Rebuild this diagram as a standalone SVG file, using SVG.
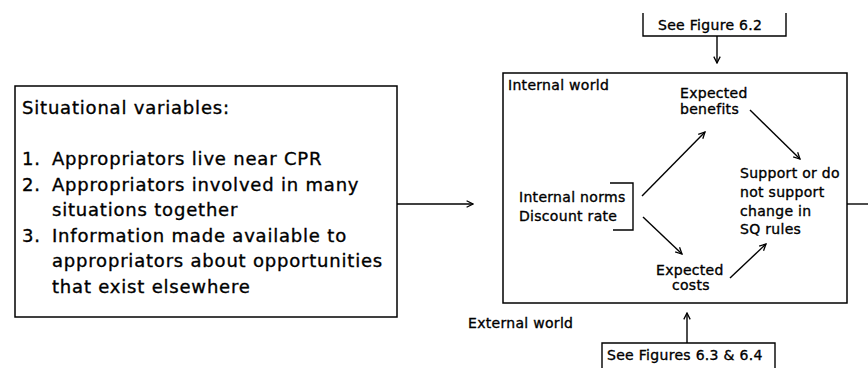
<svg xmlns="http://www.w3.org/2000/svg" width="868" height="368" viewBox="0 0 868 368">
<style>
.box{fill:none;stroke:#000;stroke-width:1.5}
.ln{fill:none;stroke:#000;stroke-width:1.4}
.big{font-family:"DejaVu Sans",sans-serif;font-size:18px;letter-spacing:0.8px;fill:#000;stroke:#000;stroke-width:0.35}
.sm{font-family:"DejaVu Sans",sans-serif;font-size:14px;letter-spacing:0.3px;fill:#000;stroke:#000;stroke-width:0.35}
</style>
<defs>
<marker id="ah" viewBox="0 0 10 10" refX="9" refY="5" markerWidth="8" markerHeight="8" markerUnits="userSpaceOnUse" orient="auto">
<path d="M1,1 L9,5 L1,9" fill="none" stroke="#000" stroke-width="1.6"/>
</marker>
</defs>
<rect width="868" height="368" fill="#fff"/>
<g id="situational">
<rect class="box" x="15" y="86" width="382" height="231"/>
<text class="big" x="22" y="114">Situational variables:</text>
<text class="big" x="22" y="165">1.</text>
<text class="big" x="52" y="165">Appropriators live near CPR</text>
<text class="big" x="22" y="190.5">2.</text>
<text class="big" x="52" y="190.5">Appropriators involved in many</text>
<text class="big" x="52" y="216">situations together</text>
<text class="big" x="22" y="241.5">3.</text>
<text class="big" x="52" y="241.5">Information made available to</text>
<text class="big" x="52" y="267">appropriators about opportunities</text>
<text class="big" x="52" y="292.5">that exist elsewhere</text>
</g>
<g id="internal-world">
<rect class="box" x="503" y="73" width="344" height="230"/>
<text class="sm" x="508" y="90">Internal world</text>
</g>
<g id="norms">
<text class="sm" x="519" y="202">Internal norms</text>
<text class="sm" x="519" y="221">Discount rate</text>
<path class="ln" d="M610,183 H633 V230 H613"/>
</g>
<g id="benefits">
<text class="sm" x="680" y="97.5">Expected</text>
<text class="sm" x="680" y="113.5">benefits</text>
</g>
<g id="costs">
<text class="sm" x="656" y="275">Expected</text>
<text class="sm" x="672" y="290">costs</text>
</g>
<g id="support">
<text class="sm" x="740" y="178">Support or do</text>
<text class="sm" x="740" y="197">not support</text>
<text class="sm" x="740" y="215.5">change in</text>
<text class="sm" x="740" y="234">SQ rules</text>
</g>
<g id="external-world">
<text class="sm" x="468" y="328">External world</text>
</g>
<g id="fig62">
<path class="ln" d="M643,13 V36 H786 V13"/>
<text class="sm" x="658" y="30">See Figure 6.2</text>
</g>
<g id="fig63">
<path class="ln" d="M602,368 V343 H775 V368"/>
<text class="sm" x="607" y="360">See Figures 6.3 &amp; 6.4</text>
</g>
<g id="connectors">
<line class="ln" x1="397" y1="204" x2="473" y2="204" marker-end="url(#ah)"/>
<line class="ln" x1="642" y1="196" x2="705" y2="132" marker-end="url(#ah)"/>
<line class="ln" x1="750" y1="110" x2="800" y2="159" marker-end="url(#ah)"/>
<line class="ln" x1="643" y1="217" x2="682" y2="254" marker-end="url(#ah)"/>
<line class="ln" x1="730" y1="278" x2="766" y2="244" marker-end="url(#ah)"/>
<line class="ln" x1="717" y1="36" x2="717" y2="63" marker-end="url(#ah)"/>
<line class="ln" x1="687" y1="343" x2="687" y2="313" marker-end="url(#ah)"/>
<line class="ln" x1="847" y1="204" x2="868" y2="204" stroke-width="1"/>
</g>
</svg>
